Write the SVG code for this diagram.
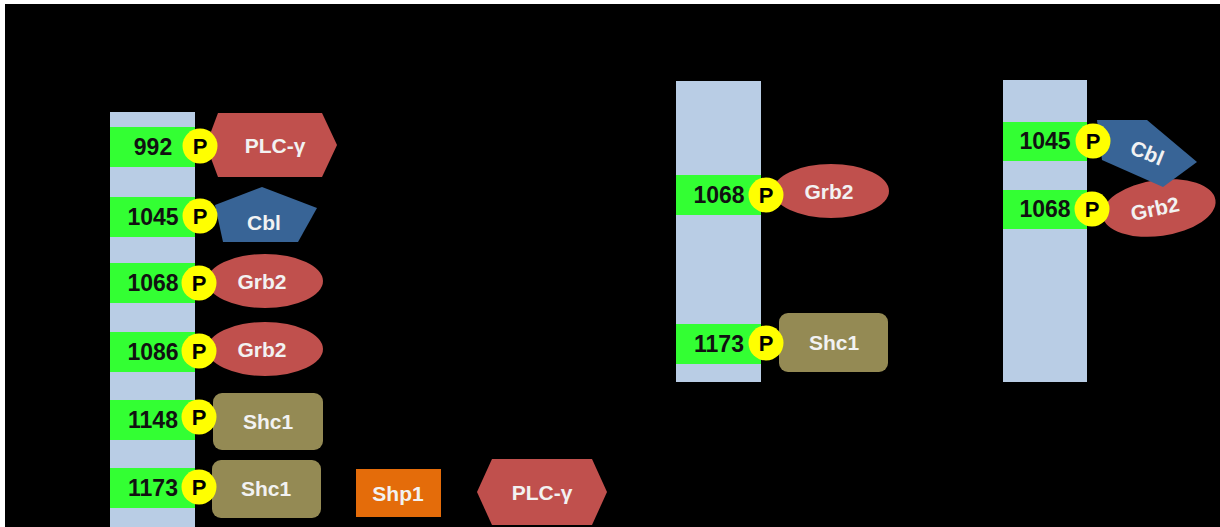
<svg xmlns="http://www.w3.org/2000/svg" width="1220" height="527" viewBox="0 0 1220 527">
<style>
.bar{fill:#B9CDE5}
.band{fill:#33FF33}
.num{font-family:"Liberation Sans",Arial,sans-serif;font-weight:bold;font-size:23px;fill:#111;text-anchor:middle}
.pc{fill:#FFFF00}
.pt{font-family:"Liberation Sans",Arial,sans-serif;font-weight:bold;font-size:22px;fill:#000;text-anchor:middle}
.lbl{font-family:"Liberation Sans",Arial,sans-serif;font-weight:bold;font-size:21px;fill:#F2F2F2;text-anchor:middle}
.plc{fill:#C0504D}
.grb{fill:#C0504D}
.cbl{fill:#386496}
.shc{fill:#948A54}
.shp{fill:#E46C0A}
</style>
<rect x="0" y="0" width="1220" height="527" fill="#FFFFFF"/>
<rect x="5" y="4" width="1215" height="523" fill="#000000"/>
<g id="connectors"/>

<!-- Left receptor -->
<g id="receptor-left">
  <rect class="bar" x="110" y="112" width="85" height="415"/>
  <rect class="band" x="110" y="127" width="85" height="40"/>
  <rect class="band" x="110" y="197" width="85" height="40"/>
  <rect class="band" x="110" y="263" width="85" height="40"/>
  <rect class="band" x="110" y="332" width="85" height="40"/>
  <rect class="band" x="110" y="400" width="85" height="40"/>
  <rect class="band" x="110" y="468" width="85" height="40"/>
  <text class="num" x="153" y="155">992</text>
  <text class="num" x="153" y="225">1045</text>
  <text class="num" x="153" y="291">1068</text>
  <text class="num" x="153" y="360">1086</text>
  <text class="num" x="153" y="428">1148</text>
  <text class="num" x="153" y="496">1173</text>
</g>
<g id="l-plcg">
  <polygon class="plc" points="218,113 322,113 337,145 322,177 218,177 206,145"/>
  <text class="lbl" x="275" y="153">PLC-γ</text>
</g>
<g id="l-cbl">
  <polygon class="cbl" points="262,187 317,208 298,242 223,242 215,205"/>
  <text class="lbl" x="264" y="230">Cbl</text>
</g>
<g id="l-grb2-1068">
  <ellipse class="grb" cx="265" cy="281" rx="58" ry="27"/>
  <text class="lbl" x="262" y="289">Grb2</text>
</g>
<g id="l-grb2-1086">
  <ellipse class="grb" cx="265" cy="349" rx="58" ry="27"/>
  <text class="lbl" x="262" y="357">Grb2</text>
</g>
<g id="l-shc1-1148">
  <rect class="shc" x="213" y="393" width="110" height="57" rx="9"/>
  <text class="lbl" x="268" y="429">Shc1</text>
</g>
<g id="l-shc1-1173">
  <rect class="shc" x="212" y="460" width="109" height="58" rx="9"/>
  <text class="lbl" x="266" y="496">Shc1</text>
</g>
<g id="l-p">
  <circle class="pc" cx="200" cy="146" r="17.5"/><text class="pt" x="200" y="154">P</text>
  <circle class="pc" cx="200" cy="216" r="17.5"/><text class="pt" x="200" y="224">P</text>
  <circle class="pc" cx="199" cy="283" r="17.5"/><text class="pt" x="199" y="291">P</text>
  <circle class="pc" cx="199" cy="351" r="17.5"/><text class="pt" x="199" y="359">P</text>
  <circle class="pc" cx="199" cy="417" r="17.5"/><text class="pt" x="199" y="425">P</text>
  <circle class="pc" cx="199" cy="487" r="17.5"/><text class="pt" x="199" y="495">P</text>
</g>
<g id="shp1">
  <rect class="shp" x="356" y="469" width="85" height="48"/>
  <text class="lbl" x="398" y="501">Shp1</text>
</g>
<g id="plcg-free">
  <polygon class="plc" points="492,459 592,459 607,492 592,525 492,525 477,492"/>
  <text class="lbl" x="542" y="500">PLC-γ</text>
</g>

<!-- Middle receptor -->
<g id="receptor-middle">
  <rect class="bar" x="676" y="81" width="85" height="301"/>
  <rect class="band" x="676" y="175" width="85" height="40"/>
  <rect class="band" x="676" y="324" width="85" height="40"/>
  <text class="num" x="719" y="203">1068</text>
  <text class="num" x="719" y="352">1173</text>
</g>
<g id="m-grb2">
  <ellipse class="grb" cx="831" cy="191" rx="58" ry="27"/>
  <text class="lbl" x="829" y="199">Grb2</text>
</g>
<g id="m-shc1">
  <rect class="shc" x="779" y="313" width="109" height="59" rx="9"/>
  <text class="lbl" x="834" y="350">Shc1</text>
</g>
<g id="m-p">
  <circle class="pc" cx="766" cy="195" r="17.5"/><text class="pt" x="766" y="203">P</text>
  <circle class="pc" cx="766" cy="343" r="17.5"/><text class="pt" x="766" y="351">P</text>
</g>

<!-- Right receptor -->
<g id="receptor-right">
  <rect class="bar" x="1003" y="80" width="84" height="302"/>
  <rect class="band" x="1003" y="122" width="84" height="39"/>
  <rect class="band" x="1003" y="190" width="84" height="39"/>
  <text class="num" x="1045" y="149">1045</text>
  <text class="num" x="1045" y="217">1068</text>
</g>
<g id="r-grb2">
  <ellipse class="grb" cx="1159" cy="208" rx="57" ry="28" transform="rotate(-8 1159 208)"/>
  <text class="lbl" x="1155" y="216" transform="rotate(-12 1155 209)">Grb2</text>
</g>
<g id="r-cbl">
  <polygon class="cbl" points="1097,120 1147,120 1197,162 1163,187 1102,160"/>
  <text class="lbl" x="1147" y="160" transform="rotate(22 1147 153)">Cbl</text>
</g>
<g id="r-p">
  <circle class="pc" cx="1093" cy="141" r="17.5"/><text class="pt" x="1093" y="149">P</text>
  <circle class="pc" cx="1092" cy="209" r="17.5"/><text class="pt" x="1092" y="217">P</text>
</g>
</svg>
